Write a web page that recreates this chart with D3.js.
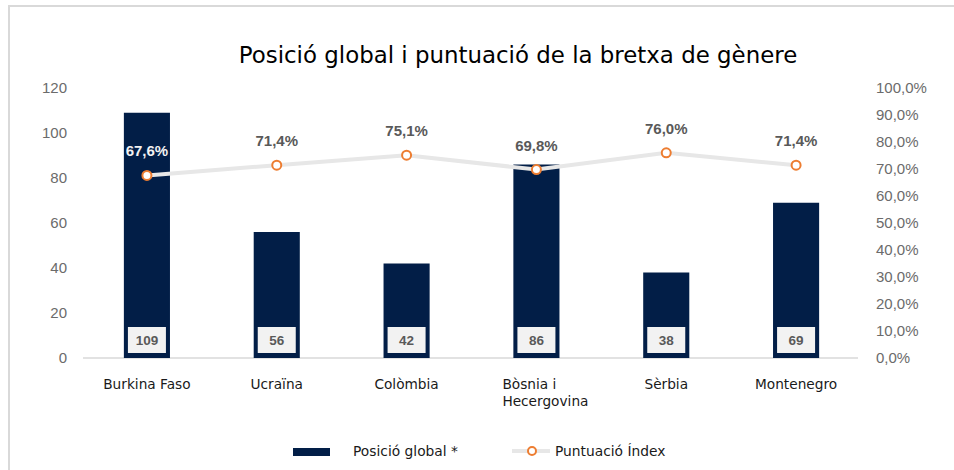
<!DOCTYPE html>
<html><head><meta charset="utf-8">
<script src="https://cdn.jsdelivr.net/npm/d3@7"></script>
<style>body{margin:0;background:#fff}svg{display:block}</style>
</head><body>
<svg id="c" width="954" height="470"></svg>
<script>
const categories = ["Burkina Faso","Ucraïna","Colòmbia","Bòsnia i\nHecergovina","Sèrbia","Montenegro"];
const posicio = [109,56,42,86,38,69];
const puntuacio = [0.676,0.714,0.751,0.698,0.760,0.714];
const leftTicks = [0,20,40,60,80,100,120];
const rightTicks = [0,0.1,0.2,0.3,0.4,0.5,0.6,0.7,0.8,0.9,1.0];
const title = "Posició global i puntuació de la bretxa de gènere";
const legendLabels = ["Posició global *","Puntuació Índex"];

const svg = d3.select("#c");
const navy = "#021e47", orange = "#ed7d31", grey = "#595959", tickGrey = "#6b6b6b";
const fmtPct = v => d3.format(".1f")(v*100).replace(".", ",") + "%";

// frame
svg.append("path").attr("d","M9,470 V6 H954").attr("fill","none").attr("stroke","#d9d9d9").attr("stroke-width",2);

svg.append("text").attr("x",518).attr("y",63).attr("text-anchor","middle")
  .attr("font-family","DejaVu Sans").attr("font-size",22.9).attr("fill","#000").text(title);

const x = d3.scaleBand().domain(categories).range([82,861]).paddingInner(0.645).paddingOuter(0.3225);
const yL = d3.scaleLinear().domain([0,120]).range([358,88]);
const yR = d3.scaleLinear().domain([0,1]).range([358,88]);

// axes
const axL = svg.append("g").attr("transform","translate(71,0)")
  .call(d3.axisLeft(yL).tickValues(leftTicks).tickSize(0).tickPadding(4));
const axR = svg.append("g").attr("transform","translate(872,0)")
  .call(d3.axisRight(yR).tickValues(rightTicks).tickSize(0).tickPadding(4).tickFormat(fmtPct));
[axL,axR].forEach(a=>{a.select(".domain").remove();
  a.selectAll("text").attr("font-family","Liberation Sans").attr("font-size",15).attr("fill",tickGrey);});

// baseline
svg.append("line").attr("x1",83).attr("x2",858).attr("y1",yL(0)).attr("y2",yL(0)).attr("stroke","#d9d9d9").attr("stroke-width",1.5);

// bars
svg.selectAll("rect.bar").data(posicio).join("rect").attr("class","bar")
  .attr("x",(d,i)=>x(categories[i])).attr("width",x.bandwidth())
  .attr("y",d=>yL(d)).attr("height",d=>yL(0)-yL(d)).attr("fill",navy);

// bar labels boxes
const bl = svg.selectAll("g.bl").data(posicio).join("g").attr("class","bl")
  .attr("transform",(d,i)=>`translate(${x(categories[i])+x.bandwidth()/2},340)`);
bl.append("rect").attr("x",-19).attr("y",-13).attr("width",38).attr("height",26).attr("fill","#f2f2f2");
bl.append("text").attr("text-anchor","middle").attr("dy","0.36em")
  .attr("font-family","Liberation Sans").attr("font-weight","bold").attr("font-size",13.5).attr("fill",grey)
  .text(d=>d);

// line
const cx = (d,i)=>x(categories[i])+x.bandwidth()/2;
const line = d3.line().x(cx).y(d=>yR(d));
svg.append("path").datum(puntuacio).attr("d",line).attr("fill","none").attr("stroke","#e7e7e7").attr("stroke-width",4);
svg.selectAll("circle.pt").data(puntuacio).join("circle").attr("class","pt")
  .attr("cx",cx).attr("cy",d=>yR(d)).attr("r",4.5).attr("fill","#fff").attr("stroke",orange).attr("stroke-width",2);
svg.selectAll("text.pl").data(puntuacio).join("text").attr("class","pl")
  .attr("x",cx).attr("y",d=>yR(d)-19).attr("text-anchor","middle")
  .attr("font-family","Liberation Sans").attr("font-weight","bold").attr("font-size",15)
  .attr("fill",(d,i)=> (yR(d)-24 > yL(posicio[i])) ? "#f2f2f2" : grey)
  .text(fmtPct);

// category labels
categories.forEach((c,i)=>{
  const lines = c.split("\n");
  const t = svg.append("text").attr("font-family","DejaVu Sans").attr("font-size",13.7).attr("fill","#1a1a1a");
  lines.forEach((l,j)=>t.append("tspan").attr("dy", j===0?0:17).text(l));
  const cxx = x(c)+x.bandwidth()/2;
  if(lines.length===1){
    t.attr("text-anchor","middle").attr("y",389); t.selectAll("tspan").attr("x",cxx);
  } else {
    const w = d3.max(t.selectAll("tspan").nodes(), n=>n.getComputedTextLength());
    t.attr("y",389); t.selectAll("tspan").attr("x",cxx - w/2 + 9);
  }
});

// legend
svg.append("rect").attr("x",293).attr("y",448).attr("width",37).attr("height",8).attr("fill",navy);
svg.append("text").attr("x",353).attr("y",456).attr("font-family","DejaVu Sans").attr("font-size",13.8).attr("fill","#1a1a1a").text(legendLabels[0]);
svg.append("line").attr("x1",512).attr("x2",550).attr("y1",451).attr("y2",451).attr("stroke","#e7e7e7").attr("stroke-width",4);
svg.append("circle").attr("cx",532).attr("cy",451).attr("r",4).attr("fill","#fff").attr("stroke",orange).attr("stroke-width",2);
svg.append("text").attr("x",555).attr("y",456).attr("font-family","DejaVu Sans").attr("font-size",13.8).attr("fill","#1a1a1a").text(legendLabels[1]);
</script>
</body></html>
